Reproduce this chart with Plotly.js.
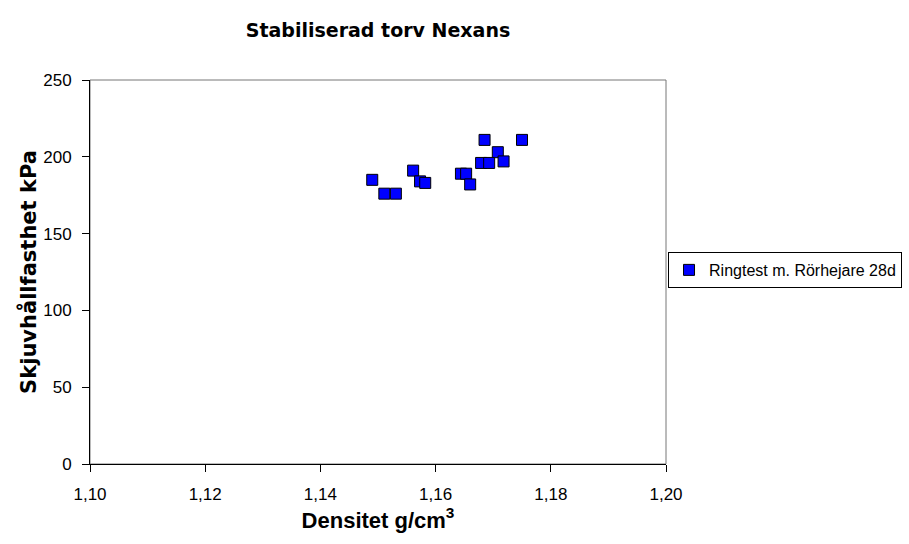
<!DOCTYPE html>
<html>
<head>
<meta charset="utf-8">
<script src="https://cdn.plot.ly/plotly-3.0.1.min.js"></script>
<style>html,body{margin:0;padding:0;background:#fff;}#chart{width:909px;height:544px;}</style>
</head>
<body>
<div id="chart"></div>
<script>
const seriesName = "Ringtest m. Rörhejare 28d";
const densitet = [1.1490, 1.1511, 1.1531, 1.1561, 1.1573, 1.1582, 1.1644, 1.1653, 1.1660, 1.1685, 1.1750, 1.1708, 1.1679, 1.1693, 1.1718];
const skjuv = [185, 176, 176, 191, 184, 183, 189, 189, 182, 211, 211, 203, 196, 196, 197];
const xTicks = [1.10, 1.12, 1.14, 1.16, 1.18, 1.20];
const yTicks = [0, 50, 100, 150, 200, 250];

const font = "Arial, 'Liberation Sans', sans-serif";
const wide = "'DejaVu Sans', Arial, sans-serif";
const trace = {
  x: densitet, y: skjuv, type: "scatter", mode: "markers", name: seriesName,
  marker: {symbol: "square", size: 11, color: "#0000FF", line: {color: "#000000", width: 1}},
  showlegend: true
};
const layout = {
  width: 909, height: 544,
  margin: {l: 90, r: 243, t: 80, b: 80, autoexpand: false},
  paper_bgcolor: "#ffffff", plot_bgcolor: "#ffffff",
  separators: ", ",
  font: {family: font, size: 17, color: "#000"},
  title: {text: "<b>Stabiliserad torv Nexans</b>", font: {family: wide, size: 19, color: "#000"}, x: 0.5, xref: "paper", y: 0.945, yref: "container", xanchor: "center", yanchor: "middle"},
  xaxis: {
    range: [1.10, 1.20], tickvals: xTicks, tickformat: ".2f", automargin: false,
    showgrid: false, zeroline: false, showline: true, linecolor: "#000", linewidth: 1,
    ticks: "outside", ticklen: 7, tickcolor: "#000", ticklabelstandoff: 8,
    tickfont: {family: font, size: 17, color: "#000"},
    title: {text: "<b>Densitet g/cm<sup>3</sup></b>", font: {family: font, size: 22, color: "#000"}, standoff: 8}
  },
  yaxis: {
    range: [0, 250], tickvals: yTicks, automargin: false,
    showgrid: false, zeroline: false, showline: true, linecolor: "#000", linewidth: 1,
    ticks: "outside", ticklen: 7, tickcolor: "#000", ticklabelstandoff: 7,
    tickfont: {family: font, size: 17, color: "#000"},
    title: {text: "<b>Skjuvhållfasthet kPa</b>", font: {family: wide, size: 21, color: "#000"}, standoff: 0}
  },
  shapes: [{type: "rect", xref: "paper", yref: "paper", x0: 0, x1: 1, y0: 0, y1: 1, layer: "below", line: {color: "#777", width: 1}}],
  legend: {
    xref: "container", yref: "container",
    x: 0.7349, xanchor: "left", y: 0.5037, yanchor: "middle",
    bordercolor: "#000", borderwidth: 1, bgcolor: "#fff",
    font: {family: font, size: 16, color: "#000"}, itemwidth: 30,
    tracegroupgap: 0
  },
  showlegend: true
};
Plotly.newPlot("chart", [trace], layout, {displayModeBar: false, staticPlot: true});
</script>
</body>
</html>
